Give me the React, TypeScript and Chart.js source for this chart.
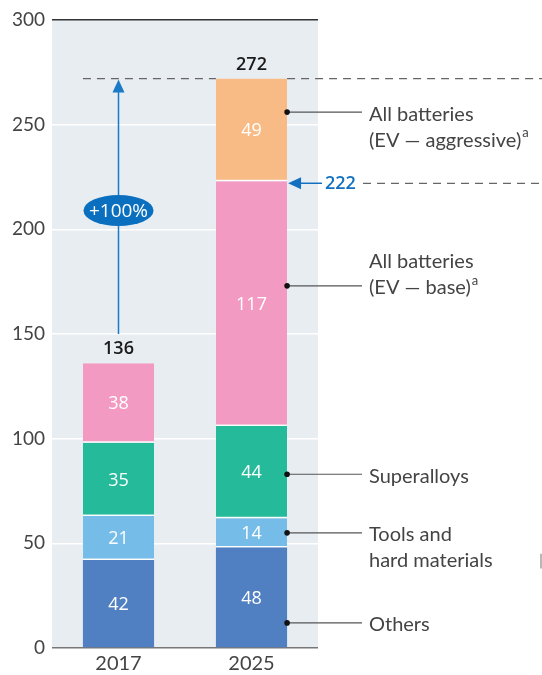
import React, { useEffect, useRef } from "react";
import { Chart, registerables } from "chart.js";

Chart.register(...registerables);

const categories = ["2017", "2025"];
const others = [42, 48];
const tools = [21, 14];
const superalloys = [35, 44];
const batteriesBase = [38, 117];
const batteriesAggressive = [null, 49];
const totals = [136, 272];
const yTicks = [0, 50, 100, 150, 200, 250, 300];

const seriesNames = ["Others", "Tools and hard materials", "Superalloys", "All batteries (EV — base)", "All batteries (EV — aggressive)"];
const seriesColors = ["#5180c2", "#76bce8", "#25bb9a", "#f39ac2", "#f9bb85"];

const annoValues = [256, 173, 83, 55, 12];
const annoLines = [
  ["All batteries", "(EV — aggressive)"],
  ["All batteries", "(EV — base)"],
  ["Superalloys"],
  ["Tools and", "hard materials"],
  ["Others"],
];
const annoAlign = [0, 1, 0, 0, 0];
const annoSup = [true, true, false, false, false];

const refValue = 222;
const growthLabel = "+100%";
const growthLabelValue = 209;
const arrowStartValue = 150;

export default function App() {
  const ref = useRef<HTMLCanvasElement | null>(null);
  useEffect(() => {
    document.body.style.margin = "0";
    const canvas = ref.current!;
    const sans = "Lato, 'Noto Sans', sans-serif";
    const numFont = "'Open Sans', 'DejaVu Sans', sans-serif";

    const bgPlugin = {
      id: "bg",
      beforeDraw(chart: any) {
        const { ctx, chartArea: a } = chart;
        ctx.save();
        ctx.fillStyle = "#e8edf2";
        ctx.fillRect(a.left, a.top, a.right - a.left, a.bottom - a.top);
        ctx.restore();
      },
    };

    const annoPlugin = {
      id: "anno",
      afterDatasetsDraw(chart: any) {
        const { ctx, chartArea: a, scales } = chart;
        const y = scales.y;
        ctx.save();
        ctx.textAlign = "center";
        ctx.textBaseline = "middle";
        ctx.font = `18px ${numFont}`;
        ctx.fillStyle = "#ffffff";
        chart.data.datasets.forEach((ds: any, i: number) => {
          const meta = chart.getDatasetMeta(i);
          meta.data.forEach((el: any, j: number) => {
            const v = ds.data[j];
            if (v == null || v === 0) return;
            ctx.fillText(String(v), el.x, (el.y + el.base) / 2 + 1);
          });
        });
        const m0 = chart.getDatasetMeta(0);
        ctx.fillStyle = "#1a1a1a";
        ctx.font = `600 18px ${numFont}`;
        totals.forEach((t, j) => {
          ctx.fillText(String(t), m0.data[j].x, y.getPixelForValue(t) - 14);
        });
        const bar0 = m0.data[0];
        const bar1 = m0.data[1];
        const bar1Right = bar1.x + bar1.width / 2;
        const bar0Left = bar0.x - bar0.width / 2;
        const W = chart.width;

        const yTop = y.getPixelForValue(totals[1]);
        ctx.strokeStyle = "#666";
        ctx.lineWidth = 1.2;
        ctx.setLineDash([8, 6]);
        ctx.beginPath();
        ctx.moveTo(bar0Left, yTop);
        ctx.lineTo(bar1.x - bar1.width / 2, yTop);
        ctx.moveTo(bar1Right, yTop);
        ctx.lineTo(W, yTop);
        ctx.stroke();

        const yRef = y.getPixelForValue(refValue);
        ctx.beginPath();
        ctx.moveTo(363, yRef);
        ctx.lineTo(W, yRef);
        ctx.stroke();
        ctx.setLineDash([]);

        const blue = "#1170c0";
        ctx.strokeStyle = blue;
        ctx.fillStyle = blue;
        ctx.lineWidth = 1.5;
        ctx.beginPath();
        ctx.moveTo(bar1Right + 10, yRef);
        ctx.lineTo(a.right + 4, yRef);
        ctx.stroke();
        ctx.beginPath();
        ctx.moveTo(bar1Right + 1, yRef);
        ctx.lineTo(bar1Right + 14, yRef - 6);
        ctx.lineTo(bar1Right + 14, yRef + 6);
        ctx.closePath();
        ctx.fill();
        ctx.font = `600 18px ${numFont}`;
        ctx.textAlign = "left";
        ctx.fillText(String(refValue), 325, yRef + 1);

        const ax = bar0.x;
        const yA0 = y.getPixelForValue(arrowStartValue);
        ctx.strokeStyle = "#1a7ac8";
        ctx.fillStyle = "#1a7ac8";
        ctx.lineWidth = 1.5;
        ctx.beginPath();
        ctx.moveTo(ax, yA0);
        ctx.lineTo(ax, yTop + 12);
        ctx.stroke();
        ctx.beginPath();
        ctx.moveTo(ax, yTop + 1);
        ctx.lineTo(ax - 6, yTop + 14);
        ctx.lineTo(ax + 6, yTop + 14);
        ctx.closePath();
        ctx.fill();
        const ey = y.getPixelForValue(growthLabelValue);
        ctx.fillStyle = "#0a6fbf";
        ctx.beginPath();
        ctx.ellipse(ax, ey, 35, 15.5, 0, 0, Math.PI * 2);
        ctx.fill();
        ctx.fillStyle = "#fff";
        ctx.textAlign = "center";
        ctx.font = `19px ${numFont}`;
        ctx.fillText(growthLabel, ax, ey + 1);

        ctx.textAlign = "left";
        annoValues.forEach((v, k) => {
          const py = y.getPixelForValue(v);
          ctx.strokeStyle = "#555";
          ctx.lineWidth = 1.2;
          ctx.beginPath();
          ctx.moveTo(bar1Right, py);
          ctx.lineTo(362, py);
          ctx.stroke();
          ctx.fillStyle = "#111";
          ctx.beginPath();
          ctx.arc(bar1Right, py, 2.8, 0, Math.PI * 2);
          ctx.fill();
          ctx.fillStyle = "#444";
          const lines = annoLines[k];
          lines.forEach((ln, li) => {
            const ty = py + (li - annoAlign[k]) * 26 + 2;
            ctx.font = `20px ${sans}`;
            ctx.fillText(ln, 369, ty);
            if (annoSup[k] && li === lines.length - 1) {
              const w = ctx.measureText(ln).width;
              ctx.font = `13px ${sans}`;
              ctx.fillText("a", 369 + w + 1, ty - 7);
            }
          });
        });

        ctx.strokeStyle = "#888";
        ctx.lineWidth = 1.2;
        ctx.beginPath();
        ctx.moveTo(541, y.getPixelForValue(45));
        ctx.lineTo(541, y.getPixelForValue(38));
        ctx.stroke();

        ctx.restore();
      },
    };

    const datasets = [others, tools, superalloys, batteriesBase, batteriesAggressive].map((d, i) => ({
      label: seriesNames[i],
      data: d,
      backgroundColor: seriesColors[i],
      borderColor: "rgba(255,255,255,0.85)",
      borderWidth: i === 0 ? 0 : { top: 0, bottom: 1.5, left: 0, right: 0 },
      borderSkipped: false,
      barPercentage: 0.535,
      categoryPercentage: 1,
    }));

    const chart = new Chart(canvas, {
      type: "bar",
      data: { labels: categories, datasets: datasets as any },
      options: {
        animation: false,
        responsive: true,
        maintainAspectRatio: false,
        layout: { padding: { top: 20, right: 224, left: 0, bottom: 0 } },
        plugins: { legend: { display: false }, tooltip: { enabled: false } },
        scales: {
          x: {
            stacked: true,
            grid: { display: false, drawTicks: false },
            border: { display: false },
            ticks: { color: "#444", font: { size: 20, family: sans }, padding: 4 },
            afterFit: (s: any) => {
              s.height = 27;
            },
          },
          y: {
            stacked: true,
            min: 0,
            max: 300,
            afterBuildTicks: (s: any) => {
              s.ticks = yTicks.map((v) => ({ value: v }));
            },
            border: { display: false },
            grid: {
              drawTicks: false,
              color: (c: any) => (c.tick.value === 300 ? "#333" : c.tick.value === 0 ? "#777" : "#ffffff"),
              lineWidth: 1.5,
            },
            ticks: { color: "#444", font: { size: 19, family: sans }, padding: 7 },
            afterFit: (s: any) => {
              s.width = 52;
            },
          },
        },
      },
      plugins: [bgPlugin, annoPlugin],
    });
    return () => chart.destroy();
  }, []);

  return (
    <div style={{ width: 542, height: 675, position: "relative" }}>
      <canvas ref={ref} />
    </div>
  );
}
